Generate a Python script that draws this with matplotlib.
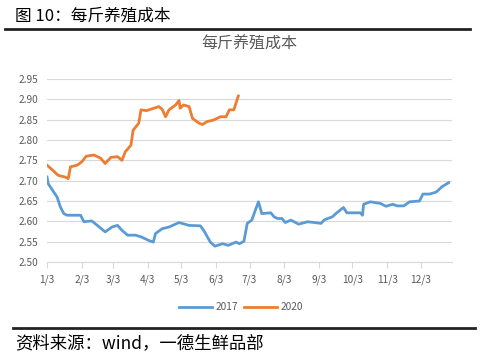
import pandas as pd
import matplotlib
matplotlib.use("Agg")
import matplotlib.pyplot as plt

plt.rcParams["font.family"] = ["Noto Sans CJK SC", "DejaVu Sans"]

# 2017 series (date within year, cost)
dates_2017 = ["01-03", "01-04", "01-09", "01-12", "01-15", "01-18", "01-21", "02-02",
              "02-05", "02-12", "02-17", "02-24", "03-02", "03-07", "03-11", "03-16",
              "03-23", "03-28", "04-04", "04-08", "04-10", "04-16", "04-22", "05-01",
              "05-10", "05-20", "05-23", "05-29", "06-02", "06-09", "06-14", "06-21",
              "06-24", "06-28", "07-01", "07-05", "07-11", "07-14", "07-22", "07-25",
              "07-28", "08-01", "08-04", "08-09", "08-16", "08-24", "09-05", "09-08",
              "09-15", "09-19", "09-25", "09-28", "10-10", "10-12", "10-13", "10-19",
              "10-28", "11-02", "11-08", "11-12", "11-18", "11-23", "12-02", "12-05",
              "12-11", "12-17", "12-22", "12-28"]
cost_2017 = [2.709, 2.693, 2.672, 2.660, 2.635, 2.619, 2.615, 2.615,
             2.599, 2.601, 2.590, 2.574, 2.586, 2.590, 2.578, 2.566,
             2.566, 2.562, 2.553, 2.549, 2.570, 2.582, 2.586, 2.597,
             2.590, 2.589, 2.578, 2.549, 2.539, 2.545, 2.541, 2.549,
             2.545, 2.551, 2.595, 2.603, 2.648, 2.619, 2.621, 2.611,
             2.607, 2.607, 2.597, 2.603, 2.593, 2.599, 2.595, 2.604,
             2.611, 2.621, 2.634, 2.621, 2.621, 2.615, 2.642, 2.648,
             2.644, 2.637, 2.642, 2.638, 2.638, 2.648, 2.650, 2.667,
             2.667, 2.672, 2.685, 2.695]

# 2020 series
dates_2020 = ["01-03", "01-08", "01-13", "01-19", "01-22", "01-24", "01-30", "02-03",
              "02-07", "02-14", "02-20", "02-24", "03-01", "03-07", "03-11", "03-14",
              "03-19", "03-21", "03-26", "03-28", "04-02", "04-13", "04-16", "04-19",
              "04-22", "04-28", "05-01", "05-02", "05-05", "05-10", "05-13", "05-19",
              "05-22", "05-26", "06-01", "06-07", "06-12", "06-15", "06-19", "06-23"]
cost_2020 = [2.738, 2.726, 2.713, 2.709, 2.705, 2.734, 2.738, 2.746,
             2.760, 2.763, 2.755, 2.742, 2.757, 2.759, 2.750, 2.771,
             2.787, 2.824, 2.841, 2.874, 2.872, 2.882, 2.875, 2.857,
             2.874, 2.886, 2.897, 2.878, 2.886, 2.882, 2.853, 2.841,
             2.838, 2.845, 2.849, 2.857, 2.857, 2.874, 2.874, 2.908]

tick_dates = ["01-03", "02-03", "03-03", "04-03", "05-03", "06-03",
              "07-03", "08-03", "09-03", "10-03", "11-03", "12-03"]
tick_labels = ["1/3", "2/3", "3/3", "4/3", "5/3", "6/3",
               "7/3", "8/3", "9/3", "10/3", "11/3", "12/3"]


def to_dt(md):
    # put both years on the same 2017 calendar axis
    return pd.to_datetime(["2017-" + s for s in md])


fig = plt.figure(figsize=(5, 3.57), dpi=100)
ax = fig.add_axes([0.094, 0.266, 0.81, 0.513])

ax.plot(to_dt(dates_2017), cost_2017, color="#5B9BD5", lw=2.0, label="2017")
ax.plot(to_dt(dates_2020), cost_2020, color="#ED7D31", lw=2.0, label="2020")

ax.set_ylim(2.50, 2.95)
ax.set_yticks([2.50 + 0.05 * i for i in range(10)])
ax.set_yticklabels([f"{2.50 + 0.05 * i:.2f}" for i in range(10)])
ax.set_xlim(pd.Timestamp("2017-01-03"), pd.Timestamp("2017-12-31"))
ax.set_xticks(to_dt(tick_dates))
ax.set_xticklabels(tick_labels)

ax.grid(axis="y", color="#D9D9D9", lw=0.8)
ax.set_axisbelow(True)
for s in ["top", "right", "left"]:
    ax.spines[s].set_visible(False)
ax.spines["bottom"].set_color("#D9D9D9")
ax.tick_params(axis="y", length=0, labelsize=7.3, labelcolor="#595959", pad=6)
ax.tick_params(axis="x", length=4, color="#D9D9D9", labelsize=7.3,
               labelcolor="#595959", pad=5)

ax.set_title("每斤养殖成本", fontsize=11.5, color="#595959", pad=22)

ax.legend(loc="upper center", bbox_to_anchor=(0.48, -0.17), ncol=2, frameon=False,
          fontsize=7.3, labelcolor="#595959", handlelength=3.2, columnspacing=0.6,
          handletextpad=0.4)

# report header / footer
fig.text(0.03, 0.955, "图 10：每斤养殖成本", fontsize=12, va="center", ha="left")
fig.add_artist(plt.Line2D([0.01, 0.94], [0.918, 0.918], color="#222222", lw=2))
fig.add_artist(plt.Line2D([0.025, 0.95], [0.081, 0.081], color="#222222", lw=2))
fig.text(0.03, 0.038, "资料来源：wind，一德生鲜品部", fontsize=12.5, va="center", ha="left")

fig.savefig("out.png", dpi=100)
